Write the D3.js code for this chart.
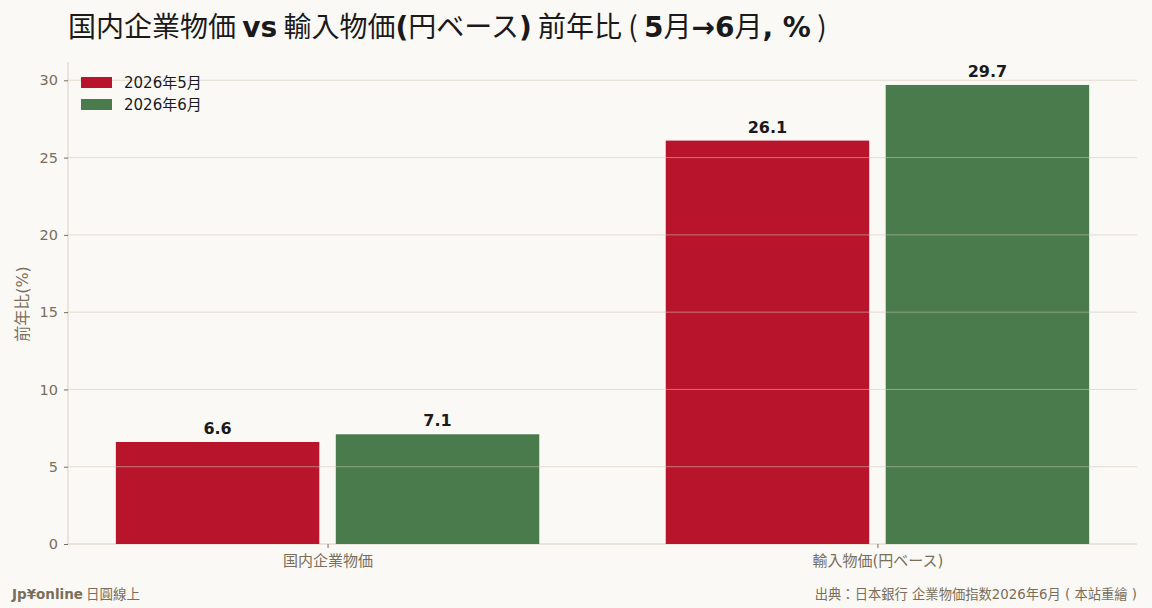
<!DOCTYPE html>
<html>
<head>
<meta charset="utf-8">
<script src="https://cdn.jsdelivr.net/npm/d3@7"></script>
<style>
  body { margin: 0; background: #faf9f6; }
  svg { display: block; font-family: "DejaVu Sans", "Noto Sans CJK TC", sans-serif; }
</style>
</head>
<body>
<svg width="1152" height="608"></svg>
<script>
// data
var categories = ["国内企業物価", "輸入物価(円ベース)"];
var seriesNames = ["2026年5月", "2026年6月"];
var seriesColors = ["#b8152d", "#4a7b4c"];
var may = [6.6, 26.1];
var june = [7.1, 29.7];
var yTicks = [0, 5, 10, 15, 20, 25, 30];

var svg = d3.select("svg");
var W = 1152, H = 608;
var mLeft = 68, mRight = 1137, mTop = 62, mBottom = 544;
var cjk = "DejaVu Sans, Noto Sans CJK TC";

svg.append("rect").attr("width", W).attr("height", H).attr("fill", "#faf9f6");

var xScale = d3.scaleLinear().domain([-0.472, 1.472]).range([mLeft, mRight]);
var yScale = d3.scaleLinear().domain([0, 31.185]).range([mBottom, mTop]);
var barW = 0.37, offsets = [-0.2, 0.2];

var rows = categories.map(function (c, i) { return { cat: c, i: i, vals: [may[i], june[i]] }; });

// y axis
var yAxis = d3.axisLeft(yScale).tickValues(yTicks).tickSize(4).tickPadding(6);
var yG = svg.append("g").attr("transform", "translate(" + mLeft + ",0)").call(yAxis);
yG.select(".domain").attr("stroke", "#d8d0c0").attr("d", "M0," + mTop + "V" + mBottom);
yG.selectAll(".tick line").attr("stroke", "#7a6e5a");
yG.selectAll(".tick text").attr("fill", "#7a6e5a").style("font-size", "14.5px").style("font-family", "DejaVu Sans");

// x axis
var xAxis = d3.axisBottom(xScale).tickValues([0, 1]).tickFormat(function (d) { return categories[d]; }).tickSize(4).tickPadding(7);
var xG = svg.append("g").attr("transform", "translate(0," + mBottom + ")").call(xAxis);
xG.select(".domain").attr("stroke", "#d8d0c0").attr("d", "M" + mLeft + ",0H" + mRight);
xG.selectAll(".tick line").attr("stroke", "#7a6e5a");
xG.selectAll(".tick text").attr("fill", "#7a6e5a").style("font-size", "15px").style("font-family", cjk);

// bars
seriesNames.forEach(function (s, k) {
    svg.append("g").selectAll("rect").data(rows).enter().append("rect")
        .attr("x", function (d) { return xScale(d.i + offsets[k] - barW / 2); })
        .attr("width", function (d) { return xScale(d.i + barW / 2) - xScale(d.i - barW / 2); })
        .attr("y", function (d) { return yScale(d.vals[k]); })
        .attr("height", function (d) { return yScale(0) - yScale(d.vals[k]); })
        .attr("fill", seriesColors[k]);
    svg.append("g").selectAll("text").data(rows).enter().append("text")
        .attr("x", function (d) { return xScale(d.i + offsets[k]); })
        .attr("y", function (d) { return yScale(d.vals[k]) - 8; })
        .attr("text-anchor", "middle")
        .attr("fill", "#1a1a1a")
        .style("font-size", "16px").style("font-weight", "bold")
        .text(function (d) { return d.vals[k].toFixed(1); });
});

// grid on top, semi transparent
svg.append("g").selectAll("line").data(yTicks.slice(1)).enter().append("line")
    .attr("x1", mLeft).attr("x2", mRight)
    .attr("y1", function (d) { return yScale(d); }).attr("y2", function (d) { return yScale(d); })
    .attr("stroke", "#d2c9b6").attr("stroke-opacity", 0.55).attr("stroke-width", 1);

// legend
var leg = svg.append("g").attr("transform", "translate(81,77)");
seriesNames.forEach(function (s, k) {
    leg.append("rect").attr("x", 0).attr("y", k * 22).attr("width", 31).attr("height", 11).attr("fill", seriesColors[k]);
    leg.append("text").attr("x", 43).attr("y", k * 22 + 11).attr("fill", "#1a1a1a")
        .style("font-size", "15px").style("font-family", cjk).text(s);
});

// y label
svg.append("text").attr("transform", "translate(28," + ((mTop + mBottom) / 2 + 1) + ") rotate(-90)")
    .attr("text-anchor", "middle").attr("fill", "#7a6e5a")
    .style("font-size", "16px").style("font-family", cjk).text("前年比(%)");

// title: latin bold, CJK regular
var title = svg.append("text").attr("x", 68).attr("y", 37).attr("fill", "#1a1a1a").style("font-size", "28px");
var parts = [["国内企業物価 ", false], ["vs", true], [" 輸入物価", false], ["(", true], ["円ベース", false], [")", true],
    [" 前年比 ( ", false], ["5", true], ["月", false], ["→6", true], ["月", false], [", %", true], [" )", false]];
parts.forEach(function (p) {
    title.append("tspan").style("font-weight", p[1] ? "bold" : "normal")
        .style("font-family", p[1] ? "DejaVu Sans" : "Noto Sans CJK TC").text(p[0]);
});

// footer
var fl = svg.append("text").attr("x", 12).attr("y", 599).attr("fill", "#7a6e5a").style("font-size", "13.5px");
fl.append("tspan").style("font-weight", "bold").text("Jp¥online");
fl.append("tspan").style("font-family", "Noto Sans CJK TC").text(" 日圓線上");
svg.append("text").attr("x", 1137).attr("y", 599).attr("text-anchor", "end").attr("fill", "#7a6e5a")
    .style("font-size", "13.3px").style("font-family", cjk)
    .text("出典：日本銀行 企業物価指数2026年6月 ( 本站重繪 )");
</script>
</body>
</html>
